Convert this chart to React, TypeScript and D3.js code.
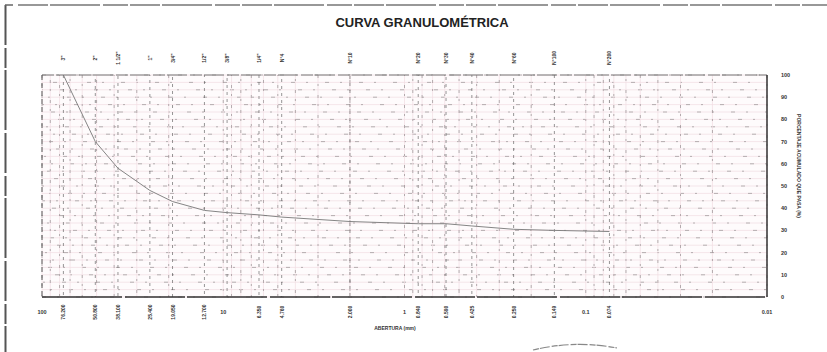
import React from "react";
import * as d3 from "d3";

const sieveNames = ['3"', '2"', '1 1/2"', '1"', '3/4"', '1/2"', '3/8"', '1/4"', 'N°4', 'N°10', 'N°20', 'N°30', 'N°40', 'N°60', 'N°100', 'N°200'];
const sieveOpenings = [76.2, 50.8, 38.1, 25.4, 19.05, 12.7, 9.525, 6.35, 4.76, 2.0, 0.84, 0.59, 0.425, 0.25, 0.149, 0.074];
const percentPassing = [100, 70, 58, 48, 43, 39, 38, 37, 36, 34, 33, 33, 32, 30.5, 30, 29.5];

const bottomTickValues = [100, 76.2, 50.8, 38.1, 25.4, 19.05, 12.7, 10, 6.35, 4.76, 2.0, 1, 0.84, 0.59, 0.425, 0.25, 0.149, 0.1, 0.074, 0.01];
const bottomTickLabels = ["100", "76.200", "50.800", "38.100", "25.400", "19.050", "12.700", "10", "6.350", "4.760", "2.000", "1", "0.840", "0.590", "0.425", "0.250", "0.149", "0.1", "0.074", "0.01"];
const decadeLabels = ["100", "10", "1", "0.1", "0.01"];
const yTickValues = [0, 10, 20, 30, 40, 50, 60, 70, 80, 90, 100];

const TITLE = "CURVA GRANULOMÉTRICA";
const X_TITLE = "ABERTURA (mm)";
const Y_TITLE = "PORCENTAJE ACUMULADO QUE PASA (%)";

export default function App() {
  const W = 827, H = 352;
  const x = d3.scaleLog().domain([100, 0.01]).range([42, 767]);
  const y = d3.scaleLinear().domain([0, 100]).range([297, 75]);
  const [x0, x1] = x.range();
  const [yb, yt] = y.range();

  const minorX: number[] = [];
  [0.01, 0.1, 1, 10].forEach((d) => {
    for (let k = 1; k <= 9; k++) minorX.push(d * k);
  });
  minorX.push(100);
  const hLines = d3.range(0, 100.01, 10 / 3);

  const line = d3
    .line<number>()
    .x((_, i) => x(sieveOpenings[i]))
    .y((v) => y(v));

  const font = "Liberation Sans, Arial, sans-serif";

  return (
    <svg width={W} height={H} style={{ position: "absolute", left: 0, top: 0, background: "#fff" }}>
      {/* outer frame */}
      <line x1={5.5} y1={5} x2={5.5} y2={352} stroke="#555" strokeWidth={2} strokeDasharray="40,3,20,2,60,3" />
      <line x1={5} y1={5} x2={13} y2={5} stroke="#666" strokeWidth={1.5} />
      <line x1={18} y1={5} x2={827} y2={5} stroke="#777" strokeWidth={1.5} strokeDasharray="30,2,50,3,25,2" />

      {/* title */}
      <text x={422} y={27} textAnchor="middle" fontFamily={font} fontWeight="bold" fontSize={13} fill="#222">
        {TITLE}
      </text>

      {/* plot background */}
      <rect x={x0} y={yt} width={x1 - x0} height={yb - yt} fill="#fefbfc" />

      {/* horizontal grid */}
      {hLines.map((v, i) => (
        <g key={"h" + i}>
          <line x1={x0} x2={x1} y1={y(v)} y2={y(v)} stroke="#f0dce2" strokeWidth={0.7} />
          <line
            x1={x0}
            x2={x1}
            y1={y(v)}
            y2={y(v)}
            stroke="#666"
            strokeWidth={0.9}
            strokeDasharray="4,11,2,17"
            strokeDashoffset={(i * 7) % 30}
            opacity={0.5}
          />
        </g>
      ))}

      {/* vertical minor grid */}
      {minorX.map((v, i) => (
        <g key={"v" + i}>
          <line x1={x(v)} x2={x(v)} y1={yt} y2={yb} stroke="#f0dce2" strokeWidth={0.7} />
          <line
            x1={x(v)}
            x2={x(v)}
            y1={yt}
            y2={yb}
            stroke="#555"
            strokeWidth={0.9}
            strokeDasharray="3,6,2,9"
            strokeDashoffset={(i * 5) % 20}
            opacity={0.45}
          />
        </g>
      ))}

      {/* sieve grid lines */}
      {sieveOpenings.map((v, i) => (
        <line
          key={"s" + i}
          x1={x(v)}
          x2={x(v)}
          y1={yt}
          y2={yb}
          stroke="#444"
          strokeWidth={1}
          strokeDasharray="3,4"
          strokeDashoffset={i * 3}
          opacity={0.55}
        />
      ))}

      {/* plot border */}
      <line x1={x0} x2={x1} y1={yt} y2={yt} stroke="#777" strokeWidth={1} strokeDasharray="12,2,20,3" />
      <line x1={x0} x2={x1} y1={yb} y2={yb} stroke="#333" strokeWidth={1.6} strokeDasharray="80,3,60,2" />
      <line x1={x0} x2={x0} y1={yt} y2={yb} stroke="#555" strokeWidth={1} strokeDasharray="5,3" />
      <line x1={x1} x2={x1} y1={yt} y2={yb} stroke="#333" strokeWidth={1.5} />

      {/* curve */}
      <path d={line(percentPassing) || ""} fill="none" stroke="#777" strokeWidth={0.9} />

      {/* top sieve labels */}
      {sieveOpenings.map((v, i) => (
        <text
          key={"t" + i}
          transform={`translate(${x(v)},58) rotate(-90)`}
          textAnchor="middle"
          dominantBaseline="central"
          fontFamily={font}
          fontWeight="bold"
          fontSize={5}
          fill="#333"
        >
          {sieveNames[i]}
        </text>
      ))}

      {/* bottom tick labels */}
      {bottomTickValues.map((v, i) => {
        const lbl = bottomTickLabels[i];
        const horiz = decadeLabels.includes(lbl);
        return horiz ? (
          <text
            key={"b" + i}
            x={x(v)}
            y={314}
            textAnchor="middle"
            fontFamily={font}
            fontWeight="bold"
            fontSize={5.5}
            fill="#333"
          >
            {lbl}
          </text>
        ) : (
          <text
            key={"b" + i}
            transform={`translate(${x(v)},312) rotate(-90)`}
            textAnchor="middle"
            dominantBaseline="central"
            fontFamily={font}
            fontWeight="bold"
            fontSize={5}
            fill="#333"
          >
            {lbl}
          </text>
        );
      })}

      {/* y tick labels */}
      {yTickValues.map((v) => (
        <text
          key={"y" + v}
          x={781}
          y={y(v)}
          dominantBaseline="central"
          fontFamily={font}
          fontWeight="bold"
          fontSize={5.5}
          fill="#333"
        >
          {v}
        </text>
      ))}

      {/* axis titles */}
      <text x={395} y={330} textAnchor="middle" fontFamily={font} fontWeight="bold" fontSize={5} fill="#333">
        {X_TITLE}
      </text>
      <text
        transform={`translate(799,${(yt + yb) / 2 - 20}) rotate(90)`}
        textAnchor="middle"
        dominantBaseline="central"
        fontFamily={font}
        fontWeight="bold"
        fontSize={5}
        fill="#333"
      >
        {Y_TITLE}
      </text>

      {/* stamp fragment */}
      <path d="M533,350 Q575,340 617,348" fill="none" stroke="#888" strokeWidth={1.2} strokeDasharray="6,1,10,2" />
    </svg>
  );
}
